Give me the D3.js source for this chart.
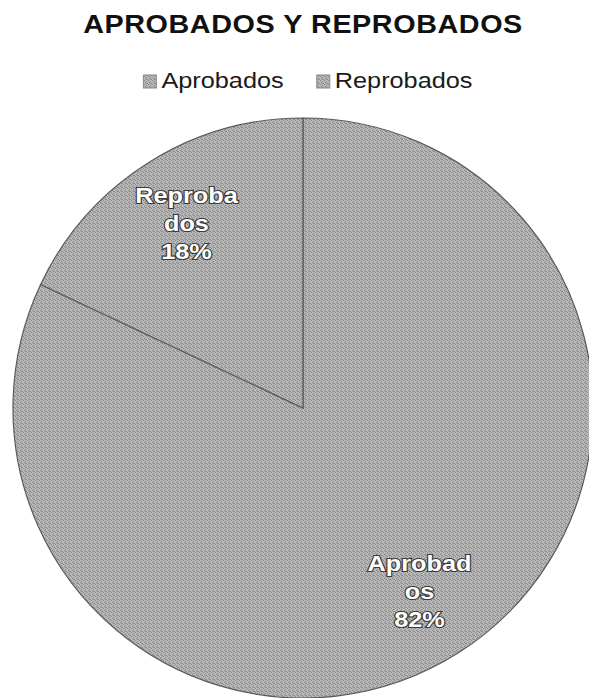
<!DOCTYPE html>
<html lang="es">
<head>
    <meta charset="utf-8">
    <title>Aprobados y Reprobados</title>
    <script src="https://d3js.org/d3.v7.min.js"></script>
    <style>
        body {
            margin: 0;
            background: white;
            font-family: 'Liberation Sans', Arial, sans-serif;
        }
        .chart-title {
            font-size: 25px;
            font-weight: bold;
            fill: #111;
            letter-spacing: 0.5px;
        }
        .legend-text {
            font-size: 22px;
            fill: #1a1a1a;
        }
        .slice-label {
            font-size: 22px;
            font-weight: bold;
            fill: white;
            stroke: #3a3a3a;
            stroke-width: 2.2px;
            paint-order: stroke;
        }
    </style>
</head>
<body>
    <div id="chart"></div>

    <script>
        // data
        const categories = ["Aprobados", "Reprobados"];
        const values = [82, 18];
        const labelLines = [["Aprobad", "os", "82%"], ["Reproba", "dos", "18%"]];

        const width = 589, height = 698;
        const cx = 303, cy = 408, radius = 290;
        const stretch = 1.15; // scanned text is a bit wider than tall

        const svg = d3.select("#chart")
            .append("svg")
            .attr("width", width)
            .attr("height", height);

        // grainy grey fill, like the photocopied original (fixed dither, no direction)
        const defs = svg.append("defs");
        const grain = defs.append("pattern")
            .attr("id", "grain")
            .attr("patternUnits", "userSpaceOnUse")
            .attr("width", 4)
            .attr("height", 4);
        grain.append("rect").attr("width", 4).attr("height", 4).attr("fill", "#b8b8b8");
        [[0, 0], [2, 1], [1, 2], [3, 3], [2, 3]].forEach(p => {
            grain.append("rect")
                .attr("x", p[0]).attr("y", p[1])
                .attr("width", 1).attr("height", 1)
                .attr("fill", "#8a8a8a");
        });

        // title
        svg.append("text")
            .attr("class", "chart-title")
            .attr("text-anchor", "middle")
            .attr("transform", `translate(${cx},33) scale(${stretch},1)`)
            .text("APROBADOS Y REPROBADOS");

        const color = d3.scaleOrdinal()
            .domain(categories)
            .range(["url(#grain)", "url(#grain)"]);

        // legend, centred like excel does it
        const legend = svg.append("g").attr("class", "legend");
        const items = legend.selectAll(".legend-item")
            .data(categories)
            .enter()
            .append("g")
            .attr("class", "legend-item");

        items.append("rect")
            .attr("width", 13)
            .attr("height", 13)
            .attr("y", 75)
            .style("fill", d => color(d))
            .style("stroke", "#888")
            .style("stroke-width", 1);

        items.append("text")
            .attr("class", "legend-text")
            .text(d => d);

        const widths = [];
        items.select("text").each(function() {
            widths.push(this.getComputedTextLength() * stretch);
        });
        const swatchGap = 5, itemGap = 33;
        const itemWidths = widths.map(w => 13 + swatchGap + w);
        const total = d3.sum(itemWidths) + itemGap * (itemWidths.length - 1);
        let xPos = 308 - total / 2;
        items.each(function(d, i) {
            const g = d3.select(this);
            g.select("rect").attr("x", xPos);
            g.select("text")
                .attr("transform", `translate(${xPos + 13 + swatchGap},88) scale(${stretch},1)`);
            xPos += itemWidths[i] + itemGap;
        });

        // pie, first slice starting at 12 o'clock going clockwise
        const pie = d3.pie().sort(null).value(d => d.value);
        const arcs = pie(categories.map((c, i) => ({ name: c, value: values[i], lines: labelLines[i] })));

        const arc = d3.arc().innerRadius(0).outerRadius(radius);
        const labelArc = d3.arc().innerRadius(radius * 0.75).outerRadius(radius * 0.75);

        const pieG = svg.append("g")
            .attr("transform", `translate(${cx},${cy})`);

        pieG.selectAll("path")
            .data(arcs)
            .enter()
            .append("path")
            .attr("d", arc)
            .style("fill", d => color(d.data.name))
            .style("stroke", "#5a5a5a")
            .style("stroke-width", 1.2);

        const labels = pieG.selectAll(".slice-label")
            .data(arcs)
            .enter()
            .append("text")
            .attr("class", "slice-label")
            .attr("text-anchor", "middle")
            .attr("transform", d => {
                const [x, y] = labelArc.centroid(d);
                return `translate(${x},${y}) scale(${stretch},1)`;
            });

        labels.selectAll("tspan")
            .data(d => d.data.lines)
            .enter()
            .append("tspan")
            .attr("x", 0)
            .attr("y", (d, i) => (i - 1) * 28 + 7)
            .text(d => d);
    </script>
</body>
</html>
